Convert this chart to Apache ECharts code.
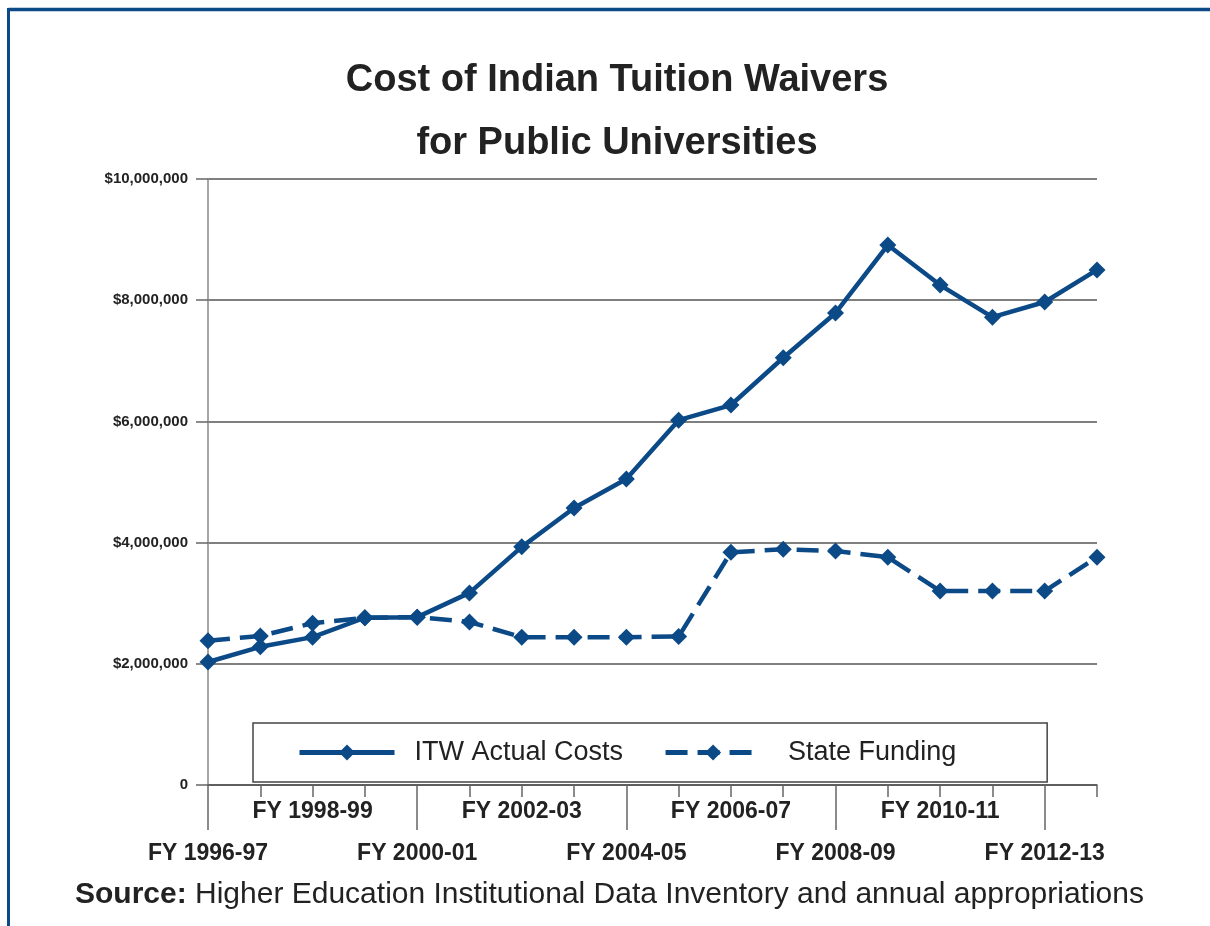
<!DOCTYPE html>
<html>
<head>
<meta charset="utf-8">
<script src="https://cdn.jsdelivr.net/npm/echarts@6/dist/echarts.min.js"></script>
<style>
html,body{margin:0;padding:0;background:#fff;}
#chart{width:1210px;height:926px;}
</style>
</head>
<body>
<div id="chart"></div>
<script>
var categories = ['FY 1996-97','FY 1997-98','FY 1998-99','FY 1999-00','FY 2000-01','FY 2001-02','FY 2002-03','FY 2003-04','FY 2004-05','FY 2005-06','FY 2006-07','FY 2007-08','FY 2008-09','FY 2009-10','FY 2010-11','FY 2011-12','FY 2012-13','FY 2013-14'];
var itwActualCosts = [2030000,2280000,2440000,2760000,2770000,3170000,3930000,4570000,5050000,6020000,6270000,7050000,7790000,8910000,8250000,7720000,7970000,8500000];
var stateFunding = [2380000,2460000,2670000,2760000,2770000,2690000,2440000,2440000,2440000,2450000,3840000,3890000,3860000,3760000,3200000,3200000,3200000,3760000];
var yTicks = [0,2000000,4000000,6000000,8000000,10000000];

var blue = '#0b4a87';
var chart = echarts.init(document.getElementById('chart'));
chart.setOption({
  animation: false,
  backgroundColor: '#fff',
  title: {
    text: 'Cost of Indian Tuition Waivers\nfor Public Universities',
    left: 612, top: 44, textAlign: 'center',
    textStyle: {fontFamily: 'Liberation Sans, Arial', fontSize: 38, fontWeight: 'bold', color: '#222', lineHeight: 63}
  },
  grid: {left: 208, right: 113, top: 179, bottom: 141},
  legend: {
    left: 253, top: 723,
    padding: [16, 91, 16, 44],
    itemGap: 40,
    itemWidth: 95, itemHeight: 20,
    backgroundColor: '#fff',
    borderColor: '#444', borderWidth: 1.5,
    lineStyle: {width: 5},
    formatter: function(n){ return (n === 'State Funding' ? '   ' : '  ') + n; },
    textStyle: {fontFamily: 'Liberation Sans, Arial', fontSize: 27, color: '#222'},
    data: ['ITW Actual Costs','State Funding']
  },
  xAxis: [{
    type: 'category', data: categories, boundaryGap: false, position: 'bottom',
    axisLine: {lineStyle: {color: '#555', width: 1.5}},
    axisTick: {show: true, interval: 0, length: 12, lineStyle: {color: '#666', width: 1.5}},
    axisLabel: {
      interval: 0, margin: 6, showMinLabel: true, showMaxLabel: true, hideOverlap: false,
      fontFamily: 'Liberation Sans, Arial', fontSize: 23, fontWeight: 'bold', color: '#222', lineHeight: 42,
      formatter: function(v, i){ if (i % 2 === 1) return ''; return (i % 4 === 0) ? '\n' + v : v; }
    },
    splitLine: {show: false}
  },{
    type: 'category', data: categories, boundaryGap: false, position: 'bottom',
    axisLine: {show: false},
    axisTick: {show: true, interval: 3, length: 45, lineStyle: {color: '#666', width: 1.5}},
    axisLabel: {show: false},
    splitLine: {show: false}
  }],
  yAxis: {
    type: 'value', min: yTicks[0], max: yTicks[yTicks.length-1], interval: 2000000,
    axisLine: {show: true, lineStyle: {color: '#888', width: 1.5}},
    axisTick: {show: true, length: 12, lineStyle: {color: '#666', width: 1.5}},
    axisLabel: {
      margin: 20, fontFamily: 'Liberation Sans, Arial', fontSize: 15, fontWeight: 'bold', color: '#222',
      formatter: function(v){ return v === 0 ? '0' : '$' + v.toLocaleString('en-US'); }
    },
    splitLine: {show: true, lineStyle: {color: '#555', width: 1.5}}
  },
  series: [{
    name: 'ITW Actual Costs', type: 'line', data: itwActualCosts,
    symbol: 'diamond', symbolSize: 17,
    lineStyle: {color: blue, width: 4.5},
    itemStyle: {color: blue}
  },{
    name: 'State Funding', type: 'line', data: stateFunding,
    symbol: 'diamond', symbolSize: 17,
    lineStyle: {color: blue, width: 4.5, type: [22, 10]},
    itemStyle: {color: blue}
  }],
  graphic: [
    {type: 'line', shape: {x1: 8.5, y1: 9.5, x2: 1210, y2: 9.5}, style: {stroke: blue, lineWidth: 3.5}},
    {type: 'line', shape: {x1: 8.5, y1: 8, x2: 8.5, y2: 926}, style: {stroke: blue, lineWidth: 3}},
    {type: 'text', left: 75, top: 880, style: {
      text: '{b|Source:} Higher Education Institutional Data Inventory and annual appropriations',
      font: '30px "Liberation Sans", Arial', fill: '#222',
      rich: {b: {fontWeight: 'bold', fontSize: 30, fontFamily: 'Liberation Sans, Arial', fill: '#222'}}
    }}
  ]
});
</script>
</body>
</html>
